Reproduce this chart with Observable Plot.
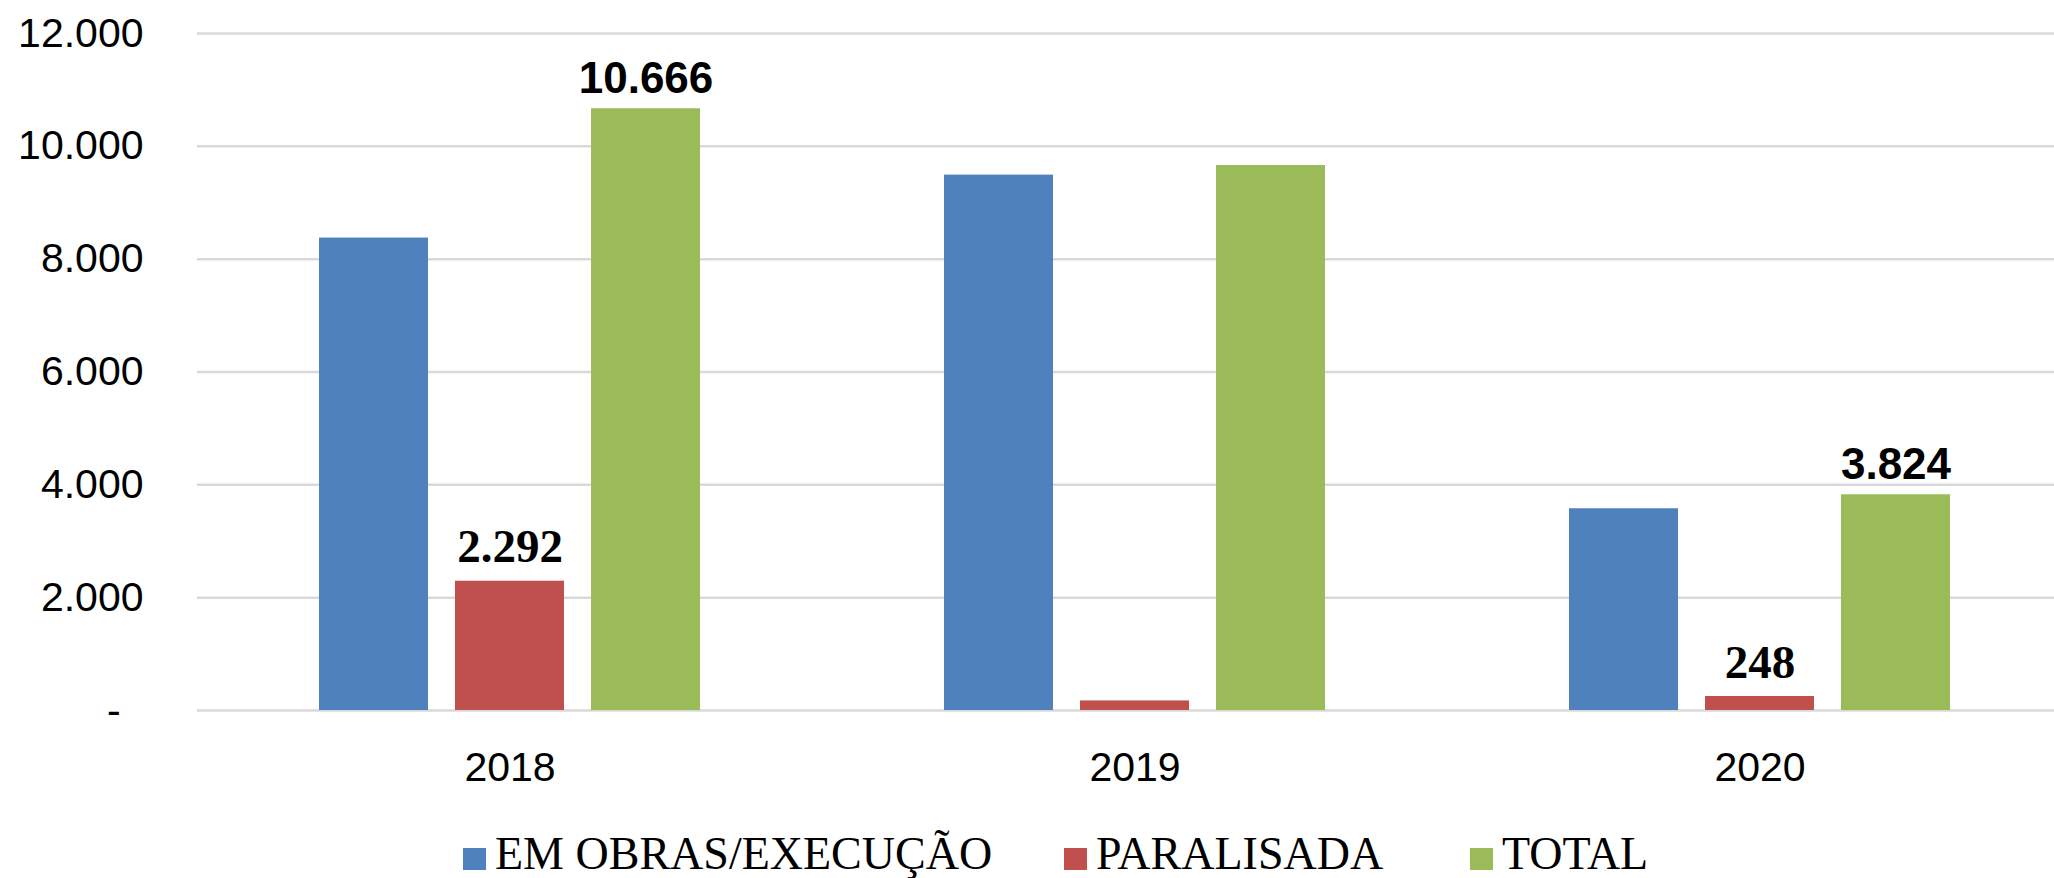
<!DOCTYPE html>
<html>
<head>
<meta charset="utf-8">
<script src="https://cdn.jsdelivr.net/npm/d3@7"></script>
<script src="https://cdn.jsdelivr.net/npm/@observablehq/plot@0.6"></script>
<style>
  html, body { margin: 0; padding: 0; background: #fff; overflow: hidden; width: 2054px; height: 878px; }
  #chart svg { display: block; }
  #legend {
    position: absolute; left: 0; top: 800px; width: 2054px; height: 78px;
    font-family: "Liberation Serif", "Times New Roman", serif; font-size: 46px; line-height: 46px; color: #000;
  }
  .item { position: absolute; top: 31px; display: flex; align-items: flex-start; white-space: nowrap; }
  .sw { width: 23px; height: 22px; margin-top: 17px; margin-right: 9px; }
</style>
</head>
<body>
<div id="chart"></div>
<div id="legend"></div>
<script>
// ---- data ----
const years = ["2018", "2019", "2020"];
const series = ["EM OBRAS/EXECUÇÃO", "PARALISADA", "TOTAL"];
const emObras = [8374, 9490, 3576];
const paralisada = [2292, 170, 248];
const total = [10666, 9660, 3824];
const colors = ["#4F81BD", "#C0504D", "#9BBB59"];
const yTicks = [0, 2000, 4000, 6000, 8000, 10000, 12000];
const labelledYearsParalisada = ["2018", "2020"];
const labelledYearsTotal = ["2018", "2020"];

// ---- build table ----
const seriesValues = [emObras, paralisada, total];
const rows = [];
years.forEach((yr, i) => {
  series.forEach((s, j) => rows.push({year: yr, series: s, value: seriesValues[j][i]}));
});
const totalLabels = rows.filter(d => d.series === series[2] && labelledYearsTotal.includes(d.year));
const parLabels = rows.filter(d => d.series === series[1] && labelledYearsParalisada.includes(d.year));

const br = d3.formatLocale({decimal: ",", thousands: ".", grouping: [3], currency: ["R$", ""]});
const fmt = br.format(",d");

const chart = Plot.plot({
  width: 2054,
  height: 800,
  marginTop: 33,
  marginBottom: 90,
  marginLeft: 197,
  marginRight: -18,
  style: {fontFamily: "'Liberation Sans', Arial, sans-serif", fontSize: "41px", color: "#000", background: "#fff", overflow: "visible"},
  fx: {domain: years, padding: 0, label: null, axis: "bottom", tickSize: 0, tickPadding: 41},
  x: {domain: series, paddingInner: 0.2, paddingOuter: 0.89, axis: null},
  y: {domain: [0, 12000], ticks: yTicks, tickFormat: d => d === 0 ? "-\u00a0\u00a0" : fmt(d), label: null, tickSize: 0, tickPadding: 54},
  color: {domain: series, range: colors},
  marks: [
    Plot.ruleY(yTicks, {stroke: "#d9d9d9", strokeWidth: 2.5}),
    Plot.barY(rows, {fx: "year", x: "series", y: "value", fill: "series"}),
    Plot.text(totalLabels, {
      fx: "year", x: "series", y: "value", text: d => fmt(d.value),
      lineAnchor: "bottom", dy: -16, fontWeight: "bold", fontSize: 44,
      fontFamily: "'Liberation Sans', Arial, sans-serif", fill: "#000"
    }),
    Plot.text(parLabels, {
      fx: "year", x: "series", y: "value", text: d => fmt(d.value),
      lineAnchor: "bottom", dy: -19, fontWeight: "bold", fontSize: 47,
      fontFamily: "'Liberation Serif', 'Times New Roman', serif", fill: "#000"
    })
  ]
});
document.getElementById("chart").appendChild(chart);

// ---- legend ----
const legendLeft = [463, 1064, 1470];
const legend = document.getElementById("legend");
series.forEach((s, i) => {
  const item = document.createElement("div");
  item.className = "item";
  item.style.left = legendLeft[i] + "px";
  const sw = document.createElement("div");
  sw.className = "sw";
  sw.style.background = colors[i];
  const t = document.createElement("span");
  t.textContent = s;
  item.appendChild(sw);
  item.appendChild(t);
  legend.appendChild(item);
});
</script>
</body>
</html>
